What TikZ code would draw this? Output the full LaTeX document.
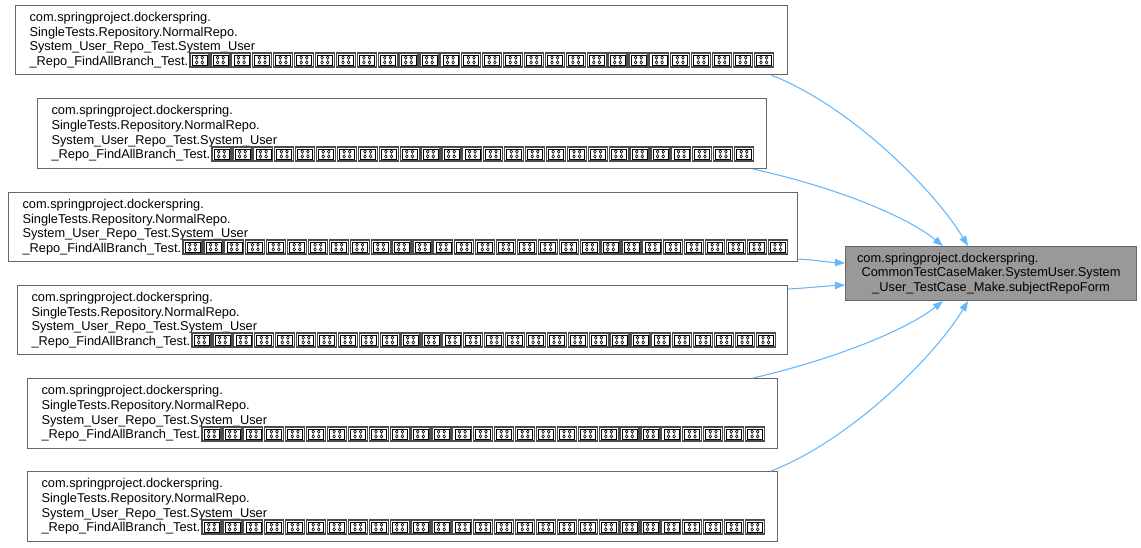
\documentclass[tikz,border=0pt]{standalone}
\usepackage{fontspec}
\setmainfont{Liberation Sans}
\usetikzlibrary{calc,arrows.meta}
\definecolor{edgeblue}{HTML}{63B8FF}
\definecolor{boxline}{HTML}{666666}
\definecolor{hlfill}{HTML}{999999}
\tikzset{
  callbox/.style={draw=boxline, fill=white, line width=0.8pt, rectangle, inner sep=0pt,
    anchor=north west, align=left, font=\fontsize{9.6pt}{11pt}\selectfont},
  hlbox/.style={draw=boxline, fill=hlfill, line width=0.8pt, rectangle, inner sep=0pt,
    anchor=north west, align=center, font=\fontsize{9.6pt}{11pt}\selectfont},
  tofuout/.style={draw=black!70, line width=0.9pt},
  tofuin/.style={draw=black, line width=0.45pt},
  edge/.style={draw=edgeblue, line width=0.8pt, -{Triangle[length=7.5pt,width=5.5pt]}}
}
\newcommand\leftbox[6]{%
  \pgfmathsetmacro\bw{(#4-#2)*0.75}%
  \pgfmathsetmacro\bh{(#5-#3)*0.75}%
  \pgfmathsetmacro\tw{(#4-#2-28)*0.75}%
  \node[callbox, minimum width=\bw pt, minimum height=\bh pt, text width=\tw pt] (#1) at (#2,#3)
    {com.springproject.dockerspring.\\SingleTests.Repository.NormalRepo.\\System\_User\_Repo\_Test.System\_User\\\_Repo\_FindAllBranch\_Test.};
  \foreach \i in {1,...,#6}{%
    \pgfmathsetmacro\tx{#2+175+(\i-1)*20.9}%
    \draw[tofuout] (\tx,#5-21) rectangle (\tx+19,#5-7);
    \draw[tofuin] (\tx+2,#5-19) rectangle (\tx+17,#5-9);
    \foreach \cx in {6.7,12.3}{\foreach \cy in {16.4,11.6}{%
      \draw[tofuin] (\tx+\cx,#5-\cy) ellipse [x radius=1.3, y radius=1.7];}}
  }%
}
\begin{document}
\begin{tikzpicture}[x=0.75pt,y=-0.75pt]
\useasboundingbox (0,0) rectangle (1141,547);
\fill[white] (0,0) rectangle (1141,547);

\leftbox{b1}{15}{5}{787}{74}{28}
\leftbox{b2}{37}{98}{766}{168}{26}
\leftbox{b3}{8}{192}{797}{261}{29}
\leftbox{b4}{17}{285}{787}{354}{28}
\leftbox{b5}{27}{378}{777}{448}{27}
\leftbox{b6}{27}{471}{777}{541}{27}

\node[hlbox, minimum width=218.25pt, minimum height=40.5pt, text width=201pt] (t) at (845,246)
  {\makebox[201pt][l]{com.springproject.dockerspring.}\\CommonTestCaseMaker.SystemUser.System\\\_User\_TestCase\_Make.subjectRepoForm};

\coordinate (s1) at ($(b1.south east)+(-17,0)$);
\coordinate (s2) at ($(b2.south east)+(-14,0)$);
\coordinate (s3) at ($(b3.south east)+(0,-3)$);
\coordinate (s4) at ($(b4.north east)+(0,4)$);
\coordinate (s5) at ($(b5.north east)+(-25,0)$);
\coordinate (s6) at ($(b6.north east)+(-7,0)$);
\coordinate (e1) at ($(t.north west)+(123,0)$);
\coordinate (e2) at ($(t.north west)+(98,0)$);
\coordinate (e3) at ($(t.north west)+(0,17)$);
\coordinate (e4) at ($(t.north west)+(0,39)$);
\coordinate (e5) at ($(t.south west)+(98,0)$);
\coordinate (e6) at ($(t.south west)+(123,0)$);

\draw[edge] (s1) .. controls +(80,31) and +(-33,-55) .. (e1);
\draw[edge] (s2) .. controls +(78,17) and +(-38,-31) .. (e2);
\draw[edge] (s3) .. controls +(20,1) and +(-20,-1) .. (e3);
\draw[edge] (s4) .. controls +(20,-1) and +(-20,1) .. (e4);
\draw[edge] (s5) .. controls +(78,-18) and +(-38,30) .. (e5);
\draw[edge] (s6) .. controls +(80,-31) and +(-33,55) .. (e6);
\end{tikzpicture}
\end{document}
